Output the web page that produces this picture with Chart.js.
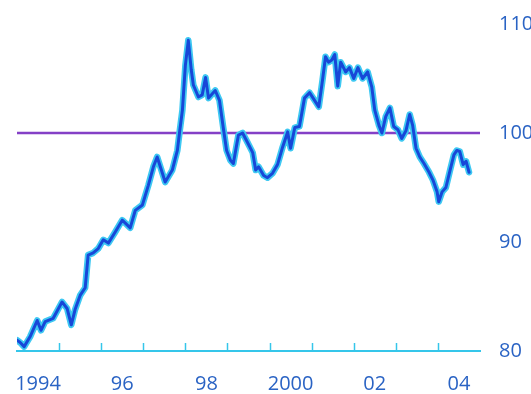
<!DOCTYPE html>
<html>
<head>
<meta charset="utf-8">
<script src="https://cdn.jsdelivr.net/npm/chart.js@4/dist/chart.umd.min.js"></script>
<style>
  html, body { margin: 0; padding: 0; background: #fff; }
  #wrap { width: 531px; height: 394px; position: relative; }
</style>
</head>
<body>
<div id="wrap"><canvas id="chart"></canvas></div>
<script>
// index level, sampled along the line (decimal years)
const years = [
    1994.00, 1994.07, 1994.17, 1994.31, 1994.48, 1994.57, 1994.67, 1994.86,
    1995.07, 1995.19, 1995.29, 1995.38, 1995.50, 1995.62, 1995.69, 1995.81, 1995.93,
    1996.05, 1996.17, 1996.33, 1996.50, 1996.69, 1996.81, 1996.98,
    1997.12, 1997.24, 1997.33, 1997.43, 1997.52, 1997.69, 1997.81, 1997.86, 1997.93,
    1998.00, 1998.07, 1998.14, 1998.19, 1998.31, 1998.40, 1998.48, 1998.55, 1998.64, 1998.71, 1998.81, 1998.90, 1998.98,
    1999.07, 1999.14, 1999.26, 1999.36, 1999.48, 1999.60, 1999.67, 1999.74, 1999.86, 1999.95,
    2000.07, 2000.19, 2000.31, 2000.43, 2000.50, 2000.60, 2000.71, 2000.83, 2000.95,
    2001.07, 2001.17, 2001.26, 2001.33, 2001.40, 2001.48, 2001.55, 2001.62, 2001.69, 2001.81, 2001.90,
    2002.00, 2002.10, 2002.21, 2002.33, 2002.43, 2002.50, 2002.60, 2002.67, 2002.76, 2002.86, 2002.95,
    2003.05, 2003.14, 2003.24, 2003.33, 2003.40, 2003.48, 2003.57, 2003.67, 2003.79, 2003.88, 2003.98,
    2004.02, 2004.10, 2004.19, 2004.29, 2004.38, 2004.45, 2004.52, 2004.60, 2004.67, 2004.74
];
const index = [
    81.0, 80.8, 80.4, 81.3, 82.8, 81.9, 82.7, 83.0,
    84.5, 83.9, 82.4, 83.8, 85.1, 85.8, 88.8, 89.0, 89.4,
    90.2, 89.9, 90.9, 92.0, 91.3, 92.9, 93.4,
    95.2, 96.9, 97.8, 96.6, 95.5, 96.6, 98.4, 100.0, 102.1,
    106.2, 108.5, 105.8, 104.4, 103.3, 103.5, 105.1, 103.2, 103.6, 103.9, 103.0, 100.5, 98.4,
    97.5, 97.2, 99.8, 100.0, 99.1, 98.2, 96.6, 96.9, 96.1, 95.9,
    96.3, 97.1, 98.7, 100.1, 98.6, 100.5, 100.6, 103.2, 103.7,
    103.0, 102.4, 104.9, 107.0, 106.5, 106.7, 107.2, 104.3, 106.5, 105.6, 106.0,
    105.0, 106.0, 105.0, 105.6, 104.2, 102.1, 100.7, 100.0, 101.5, 102.3, 100.6,
    100.3, 99.5, 100.2, 101.7, 100.7, 98.6, 97.8, 97.2, 96.4, 95.7, 94.6,
    93.7, 94.6, 95.0, 96.6, 98.0, 98.4, 98.3, 97.1, 97.4, 96.4
];
const baseLevel = 100;
const labelYears = [1994, 1996, 1998, 2000, 2002, 2004];
const yearLabels = ['1994', '96', '98', '2000', '02', '04'];
const yTicks = [80, 90, 100, 110];

const xMin = 1994, xMax = 2005;
const blueText = '#2a63c4';
const cyan = '#35c6ea';

const makePoints = () => years.map((y, i) => ({ x: y, y: index[i] }));

// small upward ticks at every year boundary on the baseline
const yearTicks = {
    id: 'yearTicks',
    afterDatasetsDraw(chart) {
        const ctx = chart.ctx;
        const x = chart.scales.x;
        const bottom = chart.chartArea.bottom;
        ctx.save();
        ctx.strokeStyle = cyan;
        ctx.lineWidth = 1.5;
        for (let yr = xMin + 1; yr < xMax; yr++) {
            const px = Math.round(x.getPixelForValue(yr)) + 0.5;
            ctx.beginPath();
            ctx.moveTo(px, bottom);
            ctx.lineTo(px, bottom - 8);
            ctx.stroke();
        }
        ctx.restore();
    }
};

new Chart(document.getElementById('chart'), {
    type: 'line',
    data: {
        datasets: [
            // dark core of the index line (drawn last, on top)
            {
                data: makePoints(),
                borderColor: '#1747d8',
                borderWidth: 3,
                pointRadius: 0,
                tension: 0,
                borderJoinStyle: 'round',
                borderCapStyle: 'round',
                order: 0
            },
            // light halo round it
            {
                data: makePoints(),
                borderColor: '#3ec8f2',
                borderWidth: 6.5,
                pointRadius: 0,
                tension: 0,
                borderJoinStyle: 'round',
                borderCapStyle: 'round',
                order: 1
            },
            // the 100 level
            {
                data: [{ x: xMin, y: baseLevel }, { x: xMax, y: baseLevel }],
                borderColor: '#8440c6',
                borderWidth: 2.5,
                pointRadius: 0,
                order: 2
            }
        ]
    },
    plugins: [yearTicks],
    options: {
        responsive: true,
        maintainAspectRatio: false,
        animation: false,
        layout: { padding: { top: 24, left: 17, right: 0, bottom: 0 } },
        plugins: {
            legend: { display: false },
            tooltip: { enabled: false }
        },
        scales: {
            x: {
                type: 'linear',
                min: xMin,
                max: xMax,
                afterBuildTicks: (scale) => {
                    scale.ticks = labelYears.map(v => ({ value: v + 0.5 }));
                },
                afterFit: (scale) => { scale.height = 43; },
                grid: { display: false },
                border: { display: true, color: cyan, width: 2 },
                ticks: {
                    autoSkip: false,
                    maxRotation: 0,
                    padding: 13,
                    color: blueText,
                    font: { family: 'Open Sans', size: 20 },
                    callback: (v) => yearLabels[labelYears.indexOf(Math.round(v - 0.5))]
                }
            },
            y: {
                position: 'right',
                min: 80,
                max: 110,
                afterBuildTicks: (scale) => {
                    scale.ticks = yTicks.map(v => ({ value: v }));
                },
                afterFit: (scale) => { scale.width = 51; },
                grid: { display: false },
                border: { display: false },
                ticks: {
                    padding: 11,
                    color: blueText,
                    font: { family: 'Open Sans', size: 20 }
                }
            }
        }
    }
});
</script>
</body>
</html>
